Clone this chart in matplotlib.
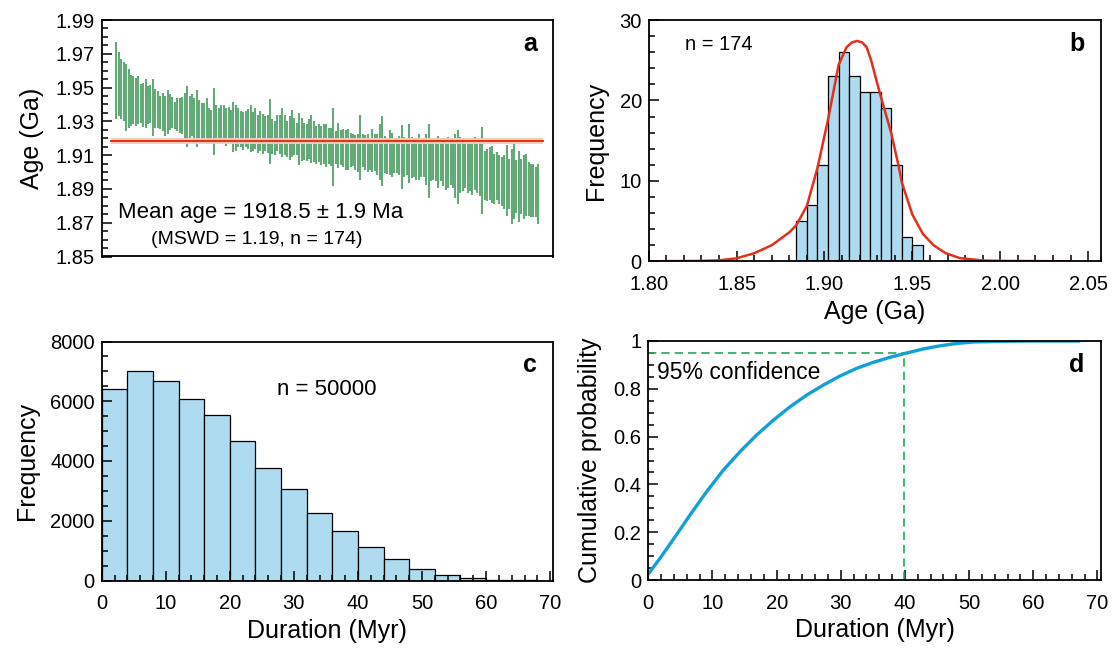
import numpy as np
import matplotlib
matplotlib.use('Agg')
import matplotlib.pyplot as plt
from matplotlib.ticker import MultipleLocator, FixedLocator, FuncFormatter

plt.rcParams['font.family'] = ['Liberation Sans', 'DejaVu Sans']

# ---- panel a: single-grain ages (Ma), top and bottom of each error bar
grain_top = [1977.1, 1971.1, 1966.8, 1964.9, 1963.9, 1961.0, 1957.2, 1956.6, 1955.8, 1956.8,
             1952.3, 1952.9, 1955.2, 1951.0, 1951.7, 1955.2, 1949.4, 1947.9, 1945.2, 1946.5,
             1945.2, 1948.5, 1945.9, 1944.6, 1941.7, 1944.0, 1944.0, 1944.6, 1946.5, 1951.0,
             1945.2, 1945.9, 1944.0, 1948.8, 1942.7, 1941.1, 1940.7, 1944.0, 1937.8, 1936.9,
             1949.8, 1939.4, 1938.2, 1939.4, 1939.8, 1937.8, 1938.4, 1936.9, 1941.7, 1939.8,
             1938.2, 1935.9, 1935.5, 1935.9, 1937.4, 1939.8, 1935.5, 1937.8, 1933.6, 1935.9,
             1934.4, 1933.0, 1933.6, 1943.2, 1931.1, 1930.5, 1933.6, 1933.6, 1938.2, 1933.6,
             1930.5, 1933.0, 1936.9, 1932.0, 1929.1, 1934.9, 1932.0, 1929.1, 1928.2, 1931.1,
             1933.6, 1930.1, 1927.2, 1928.2, 1927.2, 1928.6, 1928.2, 1926.2, 1925.9, 1937.8,
             1924.3, 1929.1, 1924.7, 1925.3, 1924.9, 1925.3, 1923.3, 1922.4, 1922.0, 1922.4,
             1933.6, 1922.8, 1921.8, 1922.8, 1920.1, 1925.3, 1922.8, 1922.4, 1928.6, 1933.0,
             1921.4, 1920.4, 1924.7, 1923.3, 1920.4, 1919.5, 1921.4, 1927.8, 1920.8, 1919.5,
             1928.6, 1920.8, 1919.5, 1920.4, 1922.4, 1919.5, 1919.5, 1922.4, 1928.6, 1920.4,
             1918.5, 1919.5, 1921.4, 1920.1, 1918.9, 1919.5, 1920.8, 1918.9, 1919.5, 1922.4,
             1924.7, 1920.8, 1918.5, 1917.5, 1918.9, 1917.5, 1919.5, 1920.8, 1916.6, 1918.5,
             1926.6, 1912.7, 1913.7, 1914.6, 1915.6, 1910.8, 1911.7, 1909.8, 1908.8, 1909.8,
             1916.2, 1907.9, 1913.7, 1916.6, 1906.9, 1912.3, 1907.9, 1909.8, 1910.8, 1905.9,
             1905.0, 1905.0, 1902.7, 1905.0]
grain_bottom = [1931.1, 1933.0, 1931.6, 1930.1, 1924.3, 1926.2, 1927.2, 1928.6, 1927.2, 1928.2,
                1929.1, 1926.6, 1926.2, 1928.2, 1929.1, 1921.4, 1926.2, 1926.2, 1925.3, 1924.3,
                1921.4, 1922.8, 1924.7, 1926.2, 1925.3, 1924.3, 1923.3, 1922.4, 1920.4, 1915.0,
                1920.4, 1921.4, 1919.5, 1915.0, 1920.4, 1919.5, 1918.5, 1916.6, 1917.5, 1918.5,
                1909.8, 1918.1, 1916.6, 1917.5, 1917.5, 1915.6, 1917.0, 1916.6, 1912.1, 1912.7,
                1914.6, 1914.6, 1913.1, 1914.6, 1913.7, 1911.7, 1912.7, 1913.7, 1911.2, 1912.3,
                1910.8, 1912.7, 1911.2, 1905.0, 1910.8, 1909.8, 1912.3, 1910.8, 1908.8, 1909.8,
                1908.8, 1907.3, 1908.8, 1909.8, 1909.8, 1904.0, 1906.5, 1906.9, 1906.5, 1907.9,
                1905.4, 1905.9, 1905.0, 1905.9, 1904.0, 1904.6, 1903.1, 1905.0, 1903.4, 1891.8,
                1905.0, 1902.1, 1904.0, 1903.1, 1901.5, 1901.1, 1903.1, 1903.4, 1901.1, 1900.2,
                1895.3, 1902.7, 1901.1, 1900.2, 1901.5, 1900.2, 1900.7, 1898.2, 1895.3, 1891.5,
                1899.6, 1898.8, 1898.2, 1897.3, 1899.6, 1899.2, 1898.2, 1889.9, 1896.9, 1898.2,
                1893.4, 1896.3, 1897.3, 1895.3, 1895.3, 1896.9, 1897.3, 1892.4, 1884.7, 1894.4,
                1895.3, 1894.9, 1890.5, 1894.4, 1891.5, 1889.5, 1890.5, 1892.4, 1890.5, 1884.7,
                1880.8, 1887.6, 1888.6, 1890.5, 1887.6, 1888.6, 1886.6, 1889.5, 1887.6, 1885.7,
                1875.0, 1883.7, 1882.8, 1883.7, 1881.8, 1880.8, 1883.7, 1880.8, 1879.9, 1877.9,
                1874.1, 1877.9, 1869.2, 1872.1, 1876.0, 1870.2, 1875.0, 1872.1, 1874.1, 1874.1,
                1873.1, 1873.1, 1873.1, 1869.2]
mean_age = 1918.5   # Ma
mean_err = 1.9      # Ma
age_ticks = [1.85, 1.87, 1.89, 1.91, 1.93, 1.95, 1.97, 1.99]

# ---- panel b: histogram of ages (Ga)
age_bin_left = [1.884, 1.890, 1.896, 1.902, 1.908, 1.914, 1.920, 1.926, 1.932, 1.938, 1.944, 1.950]
age_counts = [5, 7, 12, 23, 26, 23, 21, 21, 19, 12, 3, 2]
age_bin_width = 0.006
pdf_x = [1.800, 1.830, 1.840, 1.850, 1.860, 1.870, 1.880, 1.884, 1.890, 1.896, 1.902, 1.908,
         1.9125, 1.9155, 1.9185, 1.9215, 1.924, 1.9265, 1.9315, 1.938, 1.942, 1.944, 1.950,
         1.956, 1.962, 1.969, 1.977, 1.990, 2.000, 2.040]
pdf_y = [0.0, 0.05, 0.12, 0.37, 1.0, 2.0, 3.6, 4.5, 6.9, 11.6, 17.6, 24.4,
         26.6, 27.2, 27.4, 27.2, 26.6, 25.0, 20.9, 15.9, 12.0, 9.8, 5.8,
         3.4, 2.0, 1.0, 0.4, 0.1, 0.05, 0.0]

# ---- panel c: histogram of simulated durations (Myr)
dur_bin_left = [0, 4, 8, 12, 16, 20, 24, 28, 32, 36, 40, 44, 48, 52, 56, 60, 64]
dur_counts = [6420, 7020, 6690, 6070, 5530, 4670, 3780, 3070, 2260, 1670, 1130, 735, 370, 170, 70, 30, 12]
dur_bin_width = 4

# ---- panel d: cumulative probability of duration
cdf_x = [0.0, 1.8, 3.9, 6.5, 9.1, 11.7, 14.3, 16.9, 19.5, 22.1, 24.7, 27.3, 29.9, 32.5,
         35.1, 37.7, 40.0, 42.9, 45.5, 48.1, 50.7, 55.9, 60.0, 67.0]
cdf_y = [0.025, 0.09, 0.17, 0.272, 0.370, 0.460, 0.537, 0.607, 0.669, 0.725, 0.774, 0.816,
         0.854, 0.886, 0.911, 0.932, 0.948, 0.967, 0.980, 0.990, 0.996, 0.999, 1.0, 1.0]
conf_level = 0.95
conf_duration = 39.8

W, H = 1117, 648
fig = plt.figure(figsize=(W / 100, H / 100), dpi=100)


def box(l, t, r, b):
    return [l / W, 1 - b / H, (r - l) / W, (b - t) / H]


axA = fig.add_axes(box(101.7, 20, 553, 256.5))
axB = fig.add_axes(box(648.7, 20, 1100.5, 261.3))
axC = fig.add_axes(box(101.7, 341.5, 552.7, 580.5))
axD = fig.add_axes(box(648.3, 341, 1100.7, 580))

tickSize = 14.5
labelSize = 18
for ax in [axA, axB, axC, axD]:
    for s in ax.spines.values():
        s.set_linewidth(1.3)
    ax.tick_params(which='both', direction='in', labelsize=tickSize, width=1.1,
                   top=False, right=False)
    ax.tick_params(which='major', length=7)
    ax.tick_params(which='minor', length=4)
    ax.tick_params(axis='x', which='major', pad=10)
    ax.tick_params(axis='y', which='major', pad=5)

# panel a
pos = np.arange(1, len(grain_top) + 1)
top = np.array(grain_top) / 1000
bottom = np.array(grain_bottom) / 1000
axA.vlines(pos, bottom, top, color='#64aa78', linewidth=1.5)
axA.fill_between([-1, 176], (mean_age - mean_err) / 1000, (mean_age + mean_err) / 1000,
                 color='#fbcbb6', alpha=0.95, linewidth=0, zorder=3)
axA.plot([-1, 176], [mean_age / 1000, mean_age / 1000], color='#e3301c', linewidth=1.4, zorder=4)
axA.set_xlim(-5, 180)
axA.set_ylim(1.85, 1.99)
axA.set_xticks([])
axA.yaxis.set_major_locator(FixedLocator(age_ticks))
axA.yaxis.set_minor_locator(MultipleLocator(0.005))
axA.yaxis.set_major_formatter(FuncFormatter(lambda v, p: '%.2f' % v))
axA.set_ylabel('Age (Ga)', fontsize=labelSize, labelpad=8)
axA.text(0.965, 0.9, 'a', transform=axA.transAxes, fontsize=18, fontweight='bold',
         ha='right', va='center')
axA.text(0.037, 0.185, 'Mean age = %.1f ± %.1f Ma' % (mean_age, mean_err),
         transform=axA.transAxes, fontsize=16, ha='left', va='center')
axA.text(0.11, 0.07, '(MSWD = 1.19, n = %d)' % len(grain_top),
         transform=axA.transAxes, fontsize=14, ha='left', va='center')

# panel b
axB.bar(age_bin_left, age_counts, width=age_bin_width, align='edge',
        color='#aedbf0', edgecolor='black', linewidth=0.9)
axB.plot(pdf_x, pdf_y, color='#e3301c', linewidth=1.8)
axB.set_xlim(1.80, 2.057)
axB.set_ylim(0, 30)
axB.xaxis.set_major_locator(MultipleLocator(0.05))
axB.xaxis.set_minor_locator(MultipleLocator(0.01))
axB.xaxis.set_major_formatter(FuncFormatter(lambda v, p: '%.2f' % v))
axB.yaxis.set_major_locator(MultipleLocator(10))
axB.yaxis.set_minor_locator(MultipleLocator(2))
axB.set_xlabel('Age (Ga)', fontsize=labelSize, labelpad=4)
axB.set_ylabel('Frequency', fontsize=labelSize, labelpad=8)
axB.text(0.965, 0.9, 'b', transform=axB.transAxes, fontsize=18, fontweight='bold',
         ha='right', va='center')
axB.text(0.08, 0.9, 'n = %d' % sum(age_counts), transform=axB.transAxes, fontsize=14.5,
         ha='left', va='center')

# panel c
axC.bar(dur_bin_left, dur_counts, width=dur_bin_width, align='edge',
        color='#aedbf0', edgecolor='black', linewidth=0.9)
axC.set_xlim(0, 70.4)
axC.set_ylim(0, 8000)
axC.xaxis.set_major_locator(MultipleLocator(10))
axC.xaxis.set_minor_locator(MultipleLocator(2))
axC.yaxis.set_major_locator(MultipleLocator(2000))
axC.yaxis.set_minor_locator(MultipleLocator(500))
axC.set_xlabel('Duration (Myr)', fontsize=labelSize, labelpad=4)
axC.set_ylabel('Frequency', fontsize=labelSize, labelpad=8)
axC.text(0.965, 0.9, 'c', transform=axC.transAxes, fontsize=18, fontweight='bold',
         ha='right', va='center')
axC.text(0.50, 0.80, 'n = 50000', transform=axC.transAxes, fontsize=16,
         ha='center', va='center')

# panel d
axD.plot(cdf_x, cdf_y, color='#12a0d8', linewidth=2.4)
axD.plot([0, conf_duration], [conf_level, conf_level], color='#22a85a', linewidth=1.2,
         linestyle=(0, (5, 3)))
axD.plot([conf_duration, conf_duration], [0, conf_level], color='#22a85a', linewidth=1.2,
         linestyle=(0, (5, 3)))
axD.set_xlim(0, 70.5)
axD.set_ylim(0, 1)
axD.xaxis.set_major_locator(MultipleLocator(10))
axD.xaxis.set_minor_locator(MultipleLocator(2))
axD.yaxis.set_major_locator(MultipleLocator(0.2))
axD.yaxis.set_minor_locator(MultipleLocator(0.05))
axD.yaxis.set_major_formatter(FuncFormatter(lambda v, p: '%g' % round(v, 2)))
axD.set_xlabel('Duration (Myr)', fontsize=labelSize, labelpad=4)
axD.set_ylabel('Cumulative probability', fontsize=labelSize, labelpad=8)
axD.text(0.965, 0.9, 'd', transform=axD.transAxes, fontsize=18, fontweight='bold',
         ha='right', va='center')
axD.text(0.02, 0.87, '95% confidence', transform=axD.transAxes, fontsize=16.5,
         ha='left', va='center')

fig.savefig('out.png', dpi=100)
